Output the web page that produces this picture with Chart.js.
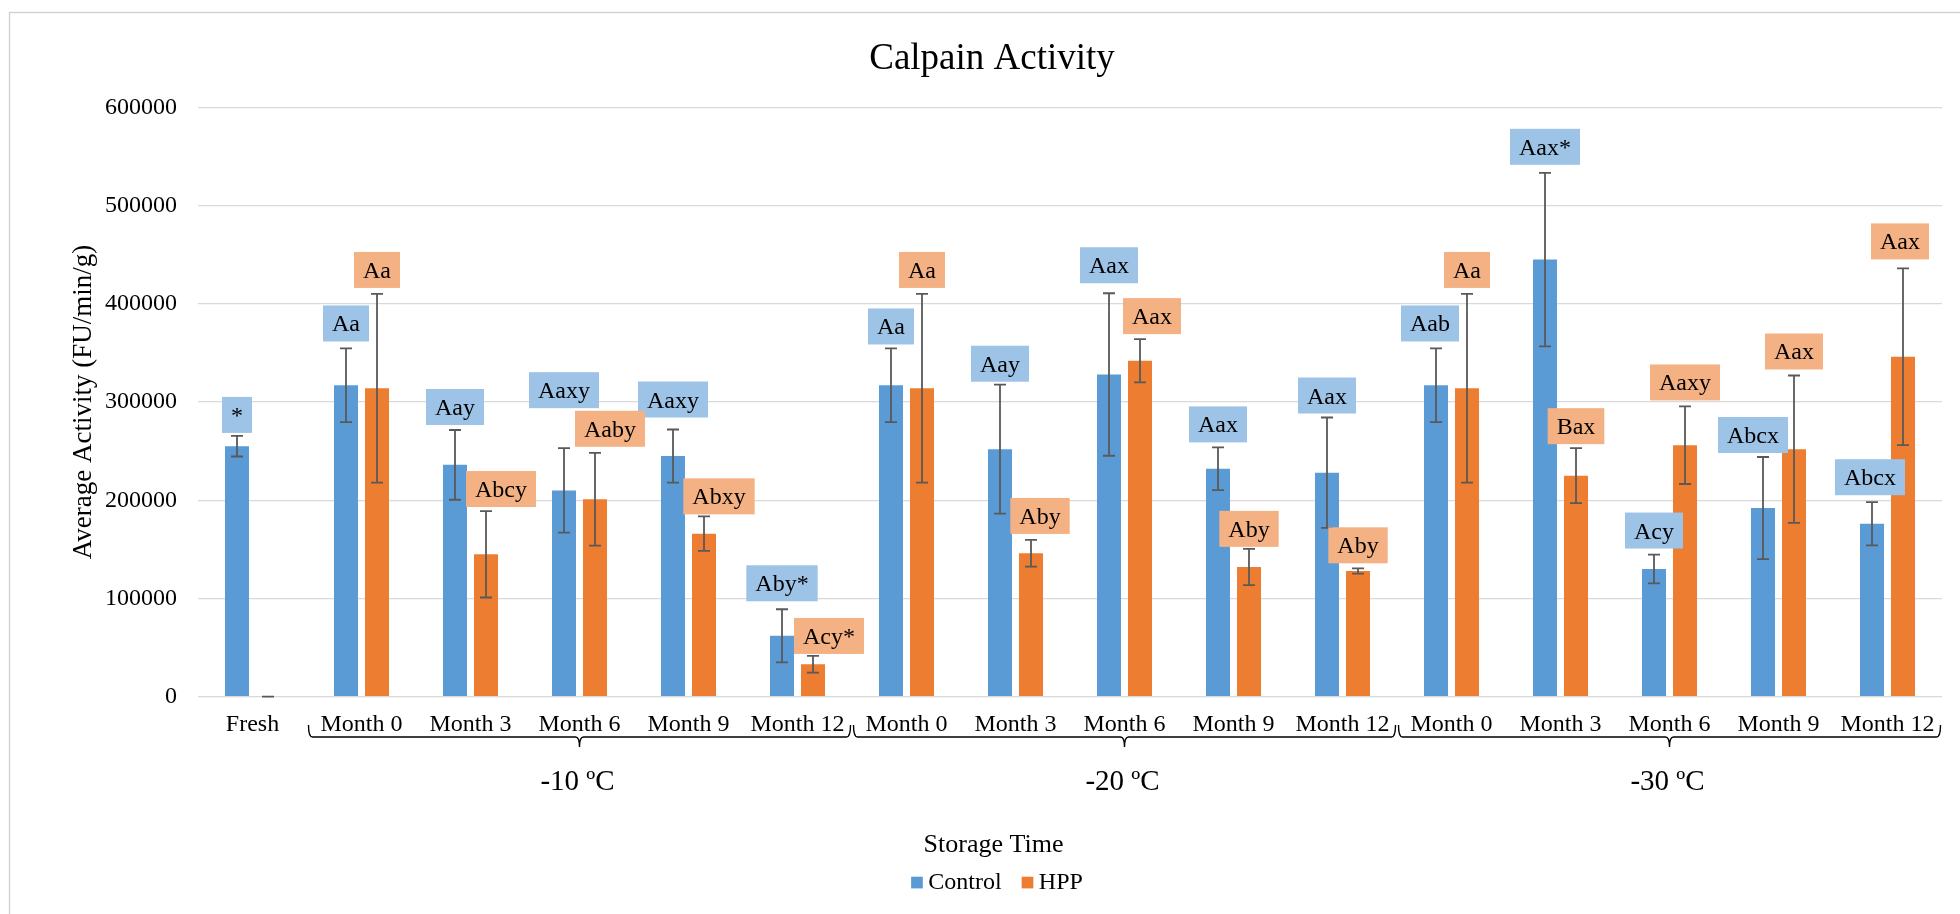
<!DOCTYPE html>
<html>
<head>
<meta charset="utf-8">
<script src="https://cdn.jsdelivr.net/npm/chart.js@4.4.1/dist/chart.umd.min.js"></script>
<style>
html,body{margin:0;padding:0;background:#fff;overflow:hidden}
canvas{display:block}
</style>
</head>
<body>
<canvas id="c" width="1960" height="914"></canvas>
<script>
// ---------------- data ----------------
const categories = ["Fresh","Month 0","Month 3","Month 6","Month 9","Month 12",
  "Month 0","Month 3","Month 6","Month 9","Month 12",
  "Month 0","Month 3","Month 6","Month 9","Month 12"];
const groupLabels = ["-10 ºC","-20 ºC","-30 ºC"];
const groupStart = [1, 6, 11];
const groupEnd = [5, 10, 15];
const seriesNames = ["Control","HPP"];
const controlValues = [255000,317000,236000,210000,245000,62000,317000,252000,328000,232000,228000,317000,445000,130000,192000,176000];
const controlErr    = [10500,37500,35500,43000,27000,27000,37500,65600,82700,21800,56200,37500,88300,14700,52000,22000];
const hppValues     = [0,314000,145000,201000,166000,33000,314000,146000,342000,132000,128000,314000,225000,256000,252000,346000];
const hppErr        = [0,96000,44000,47300,17600,8500,96000,13600,22000,18500,2700,96000,28000,39500,75000,90000];
const controlLabels = ["*","Aa","Aay","Aaxy","Aaxy","Aby*","Aa","Aay","Aax","Aax","Aax","Aab","Aax*","Acy","Abcx","Abcx"];
const hppLabels     = ["","Aa","Abcy","Aaby","Abxy","Acy*","Aa","Aby","Aax","Aby","Aby","Aa","Bax","Aaxy","Aax","Aax"];
const yTicks = [0,100000,200000,300000,400000,500000,600000];

// ---------------- layout / style (label nudges, px) ----------------
const ctrlLabelGap = [3,7,5,40,12,8,4,3,10,5,4,7,8,6,4,7];
const ctrlLabelDx  = [0,0,0,0,0,0,0,0,0,0,0,-6,0,0,-10,-2];
const hppLabelGap  = [0,6,4,6,2,2,6,6,5,2,5,6,4,6,6,9];
const hppLabelDx   = [0,0,15,15,15,16,0,9,12,0,0,0,0,0,0,-3];

const FONT = "'Liberation Serif','Times New Roman',serif";
const BLUE = '#5B9BD5', ORANGE = '#ED7D31';
const BLUE_L = '#9DC3E6', ORANGE_L = '#F4B183';
const frameCenter = 993;

Chart.defaults.font.family = FONT;
Chart.defaults.color = '#000';

function drawLabel(ctx, text, cx, bottom, fill) {
  if (!text) return;
  ctx.font = '24px ' + FONT;
  const w = ctx.measureText(text).width + 18;
  const h = 36;
  ctx.fillStyle = fill;
  ctx.fillRect(cx - w / 2, bottom - h, w, h);
  ctx.fillStyle = '#000';
  ctx.textAlign = 'center';
  ctx.textBaseline = 'alphabetic';
  ctx.fillText(text, cx, bottom - 10);
}

function brace(ctx, x1, x2, y) {
  const cx = (x1 + x2) / 2, up = 12, down = 10, r = 4;
  ctx.beginPath();
  ctx.moveTo(x1, y - up);
  ctx.quadraticCurveTo(x1, y, x1 + r, y);
  ctx.lineTo(cx - r, y);
  ctx.quadraticCurveTo(cx, y, cx, y + down);
  ctx.moveTo(cx, y + down);
  ctx.quadraticCurveTo(cx, y, cx + r, y);
  ctx.lineTo(x2 - r, y);
  ctx.quadraticCurveTo(x2, y, x2, y - up);
  ctx.stroke();
}

const overlay = {
  id: 'overlay',
  beforeDraw(chart) {
    const ctx = chart.ctx;
    ctx.save();
    ctx.strokeStyle = '#D0D0D0';
    ctx.lineWidth = 1.3;
    ctx.strokeRect(9.5, 12.5, 1990, 940);
    ctx.restore();
  },
  afterDatasetsDraw(chart) {
    const ctx = chart.ctx;
    const ys = chart.scales.y;
    const sets = [
      {vals: controlValues, err: controlErr, labels: controlLabels, gap: ctrlLabelGap, dx: ctrlLabelDx, fill: BLUE_L},
      {vals: hppValues, err: hppErr, labels: hppLabels, gap: hppLabelGap, dx: hppLabelDx, fill: ORANGE_L}
    ];
    ctx.save();
    // error bars
    sets.forEach((s, di) => {
      const meta = chart.getDatasetMeta(di);
      meta.data.forEach((bar, i) => {
        const x = bar.x;
        const yHi = ys.getPixelForValue(s.vals[i] + s.err[i]);
        const yLo = ys.getPixelForValue(s.vals[i] - s.err[i]);
        ctx.strokeStyle = '#595959';
        ctx.lineWidth = 1.8;
        ctx.beginPath();
        ctx.moveTo(x, yHi); ctx.lineTo(x, yLo);
        ctx.moveTo(x - 6, yHi); ctx.lineTo(x + 6, yHi);
        ctx.moveTo(x - 6, yLo); ctx.lineTo(x + 6, yLo);
        ctx.stroke();
      });
    });
    // data labels
    sets.forEach((s, di) => {
      const meta = chart.getDatasetMeta(di);
      meta.data.forEach((bar, i) => {
        const yHi = ys.getPixelForValue(s.vals[i] + s.err[i]);
        drawLabel(ctx, s.labels[i], bar.x + s.dx[i], yHi - s.gap[i], s.fill);
      });
    });
    ctx.restore();
  },
  afterDraw(chart) {
    const ctx = chart.ctx;
    const xs = chart.scales.x;
    ctx.save();
    // title
    ctx.fillStyle = '#000';
    ctx.textAlign = 'center';
    ctx.textBaseline = 'alphabetic';
    ctx.font = '37px ' + FONT;
    ctx.fillText('Calpain Activity', frameCenter - 1, 69);
    // group braces and labels
    const cw = xs.getPixelForValue(1) - xs.getPixelForValue(0);
    ctx.strokeStyle = '#000';
    ctx.lineWidth = 1.4;
    for (let g = 0; g < groupLabels.length; g++) {
      const x1 = xs.getPixelForValue(groupStart[g]) - cw / 2 + 1.5;
      const x2 = xs.getPixelForValue(groupEnd[g]) + cw / 2 - 1.5;
      brace(ctx, x1, x2, 737);
      ctx.font = '29px ' + FONT;
      ctx.fillText(groupLabels[g], (x1 + x2) / 2 - 2, 790);
    }
    // x axis title
    ctx.font = '26px ' + FONT;
    ctx.fillText('Storage Time', frameCenter + 0.5, 852);
    // legend
    ctx.font = '24px ' + FONT;
    const items = [{t: seriesNames[0], c: BLUE}, {t: seriesNames[1], c: ORANGE}];
    const box = 11.7, gapBox = 5.5, gapItem = 20;
    let total = 0;
    items.forEach((it, k) => { total += box + gapBox + ctx.measureText(it.t).width + (k ? 0 : gapItem); });
    let x = frameCenter + 4 - total / 2;
    ctx.textAlign = 'left';
    items.forEach(it => {
      ctx.fillStyle = it.c;
      ctx.fillRect(x, 876.7, box, box);
      x += box + gapBox;
      ctx.fillStyle = '#000';
      ctx.fillText(it.t, x, 889.3);
      x += ctx.measureText(it.t).width + gapItem;
    });
    ctx.restore();
  }
};

new Chart(document.getElementById('c'), {
  type: 'bar',
  data: {
    labels: categories,
    datasets: [
      {label: seriesNames[0], data: controlValues, backgroundColor: BLUE, categoryPercentage: 0.569, barPercentage: 0.774},
      {label: seriesNames[1], data: hppValues, backgroundColor: ORANGE, categoryPercentage: 0.569, barPercentage: 0.774}
    ]
  },
  options: {
    responsive: false,
    devicePixelRatio: 1,
    animation: false,
    layout: {padding: {left: 10, right: 18, top: 107.3, bottom: 0}},
    plugins: {legend: {display: false}, title: {display: false}, tooltip: {enabled: false}},
    scales: {
      x: {
        ticks: {font: {size: 24}, color: '#000', padding: 14, autoSkip: false, maxRotation: 0},
        grid: {display: false, drawTicks: false},
        border: {display: false},
        afterFit(s) { s.height = 217.3; }
      },
      y: {
        min: 0, max: 600000,
        afterBuildTicks(s) { s.ticks = yTicks.map(v => ({value: v})); },
        ticks: {font: {size: 24}, color: '#000', padding: 21, callback: v => String(v)},
        grid: {color: '#D9D9D9', lineWidth: 1.3, drawTicks: false},
        border: {display: false},
        title: {display: true, text: 'Average Activity (FU/min/g)', font: {size: 27}, color: '#000', padding: {top: 58, bottom: 0}},
        afterFit(s) { s.width = 188; }
      }
    }
  },
  plugins: [overlay]
});
</script>
</body>
</html>
